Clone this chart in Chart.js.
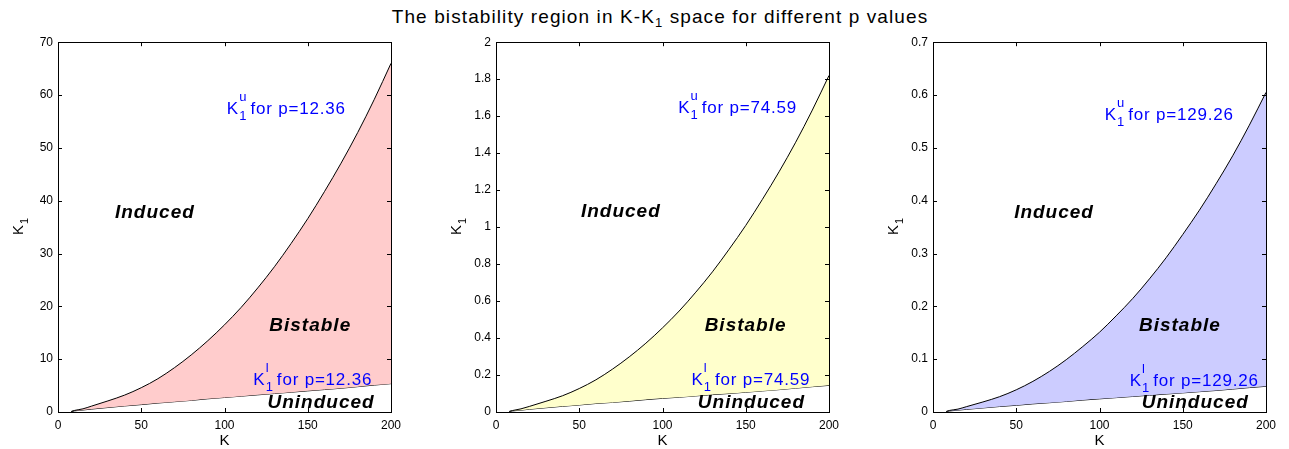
<!DOCTYPE html>
<html>
<head>
<meta charset="utf-8">
<title>Bistability region</title>
<script src="https://cdn.jsdelivr.net/npm/chart.js@4.4.1/dist/chart.umd.min.js"></script>
<style>
  body { margin: 0; background: #fff; width: 1289px; height: 449px; position: relative; overflow: hidden; font-family: "Liberation Sans", Arial, sans-serif; }
  #title { position: absolute; top: 6px; left: 160px; width: 1000px; text-align: center; font-size: 19px; letter-spacing: 1.1px; color: #000; white-space: nowrap; }
  #title sub { font-size: 13px; vertical-align: -4px; }
  .plot { position: absolute; top: 30px; }
</style>
</head>
<body>
<div id="title">The bistability region in K-K<sub>1</sub> space for different p values</div>
<canvas id="c1" class="plot" width="411" height="419" style="left:0px"></canvas>
<canvas id="c2" class="plot" width="411" height="419" style="left:438px"></canvas>
<canvas id="c3" class="plot" width="411" height="419" style="left:875px"></canvas>
<script>
(function () {
  "use strict";

  // ---- data ----
  var kValues = [8, 10, 15, 20, 30, 40, 50, 60, 70, 80, 90, 100, 110, 120, 130, 140, 150, 160, 170, 180, 190, 200];
  var upperP1 = [0.1, 0.3, 0.6, 1.1, 2.1, 3.2, 4.6, 6.3, 8.4, 10.8, 13.5, 16.5, 19.8, 23.5, 27.5, 31.9, 36.6, 41.7, 47.1, 52.9, 59.2, 66.0];
  var lowerP1 = [0.1, 0.22, 0.38, 0.55, 0.85, 1.15, 1.4, 1.7, 1.95, 2.2, 2.5, 2.75, 3.0, 3.25, 3.5, 3.75, 4.0, 4.25, 4.5, 4.8, 5.1, 5.37];
  var upperP2 = [0.003, 0.008, 0.017, 0.03, 0.058, 0.088, 0.127, 0.174, 0.232, 0.298, 0.372, 0.455, 0.546, 0.648, 0.758, 0.88, 1.009, 1.15, 1.299, 1.459, 1.633, 1.82];
  var lowerP2 = [0.003, 0.006, 0.01, 0.015, 0.023, 0.031, 0.038, 0.046, 0.052, 0.059, 0.067, 0.074, 0.08, 0.087, 0.094, 0.1, 0.107, 0.114, 0.121, 0.129, 0.137, 0.144];
  var upperP3 = [0.001, 0.003, 0.0055, 0.01, 0.019, 0.029, 0.042, 0.058, 0.077, 0.099, 0.124, 0.151, 0.182, 0.215, 0.252, 0.292, 0.336, 0.382, 0.432, 0.485, 0.543, 0.605];
  var lowerP3 = [0.001, 0.002, 0.0035, 0.005, 0.0077, 0.0104, 0.0127, 0.0154, 0.0176, 0.02, 0.0226, 0.0249, 0.0272, 0.0294, 0.0317, 0.034, 0.0362, 0.0385, 0.0407, 0.0434, 0.0462, 0.0486];
  var pValues = ["12.36", "74.59", "129.26"];
  var yMaxes = [70, 2, 0.7];
  var ySteps = [10, 0.2, 0.1];
  var xTickStep = 50;
  var regionNames = ["Induced", "Bistable", "Uninduced"];

  var FONT = "'Liberation Sans', Arial, sans-serif";
  var BLUE = "#0000ff";

  // label anchors in data units: induced, bistable, uninduced, K1u (left/baseline), K1l (left/baseline)
  var anchors = [
    [[58.2, 37.8], [151.5, 16.3], [158, 1.78], [101.4, 56.4], [117.3, 5.18]],
    [[75.0, 1.083], [149.9, 0.466], [153.4, 0.051], [109.4, 1.616], [117.4, 0.1446]],
    [[72.7, 0.378], [148.3, 0.163], [157.5, 0.0178], [103.1, 0.553], [118.1, 0.0486]]
  ];
  var fills = ["#ffcccc", "#ffffcc", "#ccccff"];

  function pts(ys) { return kValues.map(function (k, i) { return { x: k, y: ys[i] }; }); }

  // K with sub "1" and a superscript, then the rest of the string
  function drawK1(ctx, x, y, sup, rest) {
    ctx.save();
    ctx.fillStyle = BLUE;
    ctx.textAlign = "left"; ctx.textBaseline = "alphabetic";
    ctx.letterSpacing = "0px";
    ctx.font = "17px " + FONT;
    ctx.fillText("K", x, y);
    var wK = ctx.measureText("K").width;
    ctx.font = "13px " + FONT;
    ctx.fillText("1", x + wK + 1, y + 6);
    ctx.fillText(sup, x + wK + 1, y - 13);
    var wS = Math.max(ctx.measureText("1").width, ctx.measureText(sup).width);
    ctx.font = "17px " + FONT;
    ctx.letterSpacing = "0.8px";
    ctx.fillText(rest, x + wK + wS + 5, y);
    ctx.restore();
  }

  var framePlugin = {
    id: "matlabFrame",
    afterDatasetsDraw: function (chart) {
      var ctx = chart.ctx, a = chart.chartArea, xs = chart.scales.x, ys = chart.scales.y;
      var idx = chart.options.plugins.matlabFrame.idx;
      ctx.save();
      ctx.strokeStyle = "#000"; ctx.lineWidth = 1;
      ctx.strokeRect(Math.round(a.left) + 0.5, Math.round(a.top) + 0.5, Math.round(a.right - a.left), Math.round(a.bottom - a.top));
      // inward tick marks on all four sides
      ctx.beginPath();
      xs.ticks.forEach(function (t) {
        var px = Math.round(xs.getPixelForValue(t.value)) + 0.5;
        ctx.moveTo(px, a.bottom); ctx.lineTo(px, a.bottom - 4);
        ctx.moveTo(px, a.top); ctx.lineTo(px, a.top + 4);
      });
      ys.ticks.forEach(function (t) {
        var py = Math.round(ys.getPixelForValue(t.value)) + 0.5;
        ctx.moveTo(a.left, py); ctx.lineTo(a.left + 4, py);
        ctx.moveTo(a.right, py); ctx.lineTo(a.right - 4, py);
      });
      ctx.stroke();

      // region names
      var an = anchors[idx];
      ctx.fillStyle = "#000";
      ctx.font = "italic bold 19px " + FONT;
      ctx.letterSpacing = "1px";
      ctx.textAlign = "center"; ctx.textBaseline = "middle";
      regionNames.forEach(function (name, i) {
        ctx.fillText(name, xs.getPixelForValue(an[i][0]), ys.getPixelForValue(an[i][1]));
      });
      ctx.letterSpacing = "0px";
      drawK1(ctx, xs.getPixelForValue(an[3][0]), ys.getPixelForValue(an[3][1]), "u", "for p=" + pValues[idx]);
      drawK1(ctx, xs.getPixelForValue(an[4][0]), ys.getPixelForValue(an[4][1]), "l", "for p=" + pValues[idx]);

      // axis titles
      ctx.fillStyle = "#000";
      ctx.font = "15px " + FONT;
      ctx.textAlign = "center"; ctx.textBaseline = "alphabetic";
      ctx.fillText("K", (a.left + a.right) / 2, a.bottom + 33);
      ctx.translate(a.left - 35, (a.top + a.bottom) / 2);
      ctx.rotate(-Math.PI / 2);
      ctx.textAlign = "left";
      var wK = ctx.measureText("K").width;
      ctx.fillText("K", -wK / 2 - 3, 0);
      ctx.font = "11px " + FONT;
      ctx.fillText("1", wK / 2 - 2, 5);
      ctx.restore();
    }
  };

  function makeChart(id, idx, upper, lower) {
    return new Chart(document.getElementById(id), {
      type: "line",
      data: {
        datasets: [
          { data: pts(upper), borderColor: "#000", borderWidth: 1, backgroundColor: fills[idx], fill: "+1", pointRadius: 0, cubicInterpolationMode: "monotone" },
          { data: pts(lower), borderColor: "#000", borderWidth: 1, fill: false, pointRadius: 0, cubicInterpolationMode: "monotone" }
        ]
      },
      options: {
        responsive: false, animation: false, devicePixelRatio: 1,
        layout: { padding: { top: 12, right: 20, left: 0, bottom: 0 } },
        plugins: { legend: { display: false }, tooltip: { enabled: false }, matlabFrame: { idx: idx } },
        scales: {
          x: {
            type: "linear", min: 0, max: 200,
            grid: { display: false, drawTicks: false }, border: { display: false },
            ticks: { stepSize: xTickStep, padding: 6, color: "#000", font: { family: FONT, size: 12 }, maxRotation: 0 },
            afterFit: function (s) { s.height = 37; }
          },
          y: {
            min: 0, max: yMaxes[idx],
            grid: { display: false, drawTicks: false }, border: { display: false },
            ticks: {
              stepSize: ySteps[idx], padding: 5, color: "#000", font: { family: FONT, size: 12 },
              callback: function (v) { return String(Math.round(v * 100) / 100); }
            },
            afterFit: function (s) { s.width = 58; }
          }
        }
      },
      plugins: [framePlugin]
    });
  }

  makeChart("c1", 0, upperP1, lowerP1);
  makeChart("c2", 1, upperP2, lowerP2);
  makeChart("c3", 2, upperP3, lowerP3);
})();
</script>
</body>
</html>
